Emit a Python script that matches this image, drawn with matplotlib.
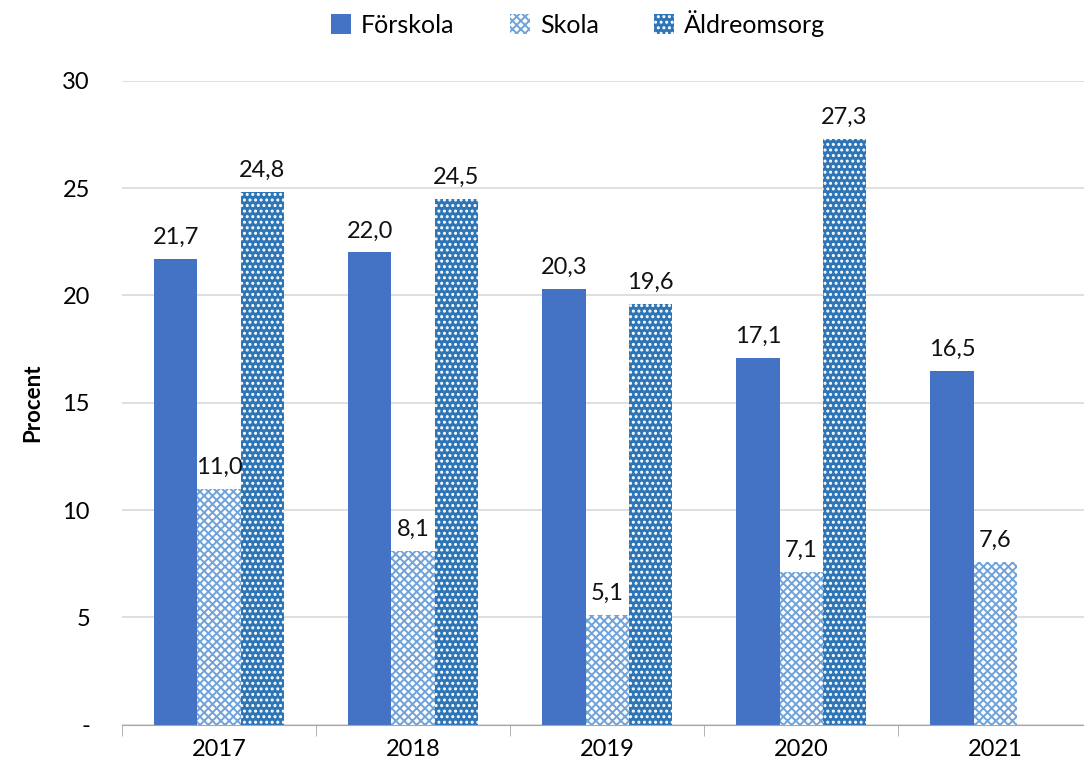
import numpy as np
import matplotlib.pyplot as plt

plt.rcParams['font.family'] = ['Lato', 'DejaVu Sans']
plt.rcParams['hatch.linewidth'] = 1.4

years = ['2017', '2018', '2019', '2020', '2021']
forskola = [21.7, 22.0, 20.3, 17.1, 16.5]
skola = [11.0, 8.1, 5.1, 7.1, 7.6]
aldreomsorg = [24.8, 24.5, 19.6, 27.3, np.nan]

fig = plt.figure(figsize=(10.84, 7.76), dpi=100)
ax = fig.add_axes([0.1125, 0.066, 0.895, 0.83])

x = np.arange(len(years))
w = 0.222

b1 = ax.bar(x - w, forskola, w, color='#4472C4', label='Förskola', zorder=2)
b2 = ax.bar(x, skola, w, facecolor='white', edgecolor='#6FA3DA', hatch='xxxx',
            linewidth=0, label='Skola', zorder=2)
b3 = ax.bar(x + w, aldreomsorg, w, facecolor='#2E75B6', edgecolor='white', hatch='...',
            linewidth=0, label='Äldreomsorg', zorder=2)

def fmt(v):
    return ('%.1f' % v).replace('.', ',')

for bars, vals in [(b1, forskola), (b2, skola), (b3, aldreomsorg)]:
    for rect, v in zip(bars, vals):
        if np.isnan(v):
            continue
        ax.annotate(fmt(v), (rect.get_x() + rect.get_width() / 2, v),
                    xytext=(0, 8), textcoords='offset points',
                    ha='center', va='bottom', fontsize=17, color='#111111')

ax.set_xlim(-0.5, len(years) - 0.5)
ax.set_ylim(0, 30)
ax.set_yticks([0, 5, 10, 15, 20, 25, 30])
ax.set_yticklabels(['-', '5', '10', '15', '20', '25', '30'], fontsize=17)
ax.set_xticks(x)
ax.set_xticklabels(years, fontsize=17)
ax.tick_params(axis='x', length=0, pad=10)
ax.tick_params(axis='y', length=0, pad=23)
ax.set_xticks(np.arange(-0.5, len(years), 1), minor=True)
ax.tick_params(axis='x', which='minor', length=8, color='#A6A6A6')

ax.grid(axis='y', color='#D9D9D9', linewidth=1.2, zorder=0)
for s in ['top', 'right', 'left']:
    ax.spines[s].set_visible(False)
ax.spines['bottom'].set_color('#A6A6A6')
ax.set_ylabel('Procent', fontsize=16, fontweight='bold', labelpad=14)

ax.legend(loc='upper center', bbox_to_anchor=(0.47, 1.145), ncol=3, frameon=False,
          fontsize=18, handlelength=0.8, handleheight=0.8, columnspacing=2.2,
          handletextpad=0.4)

fig.savefig('out.png', dpi=100)
